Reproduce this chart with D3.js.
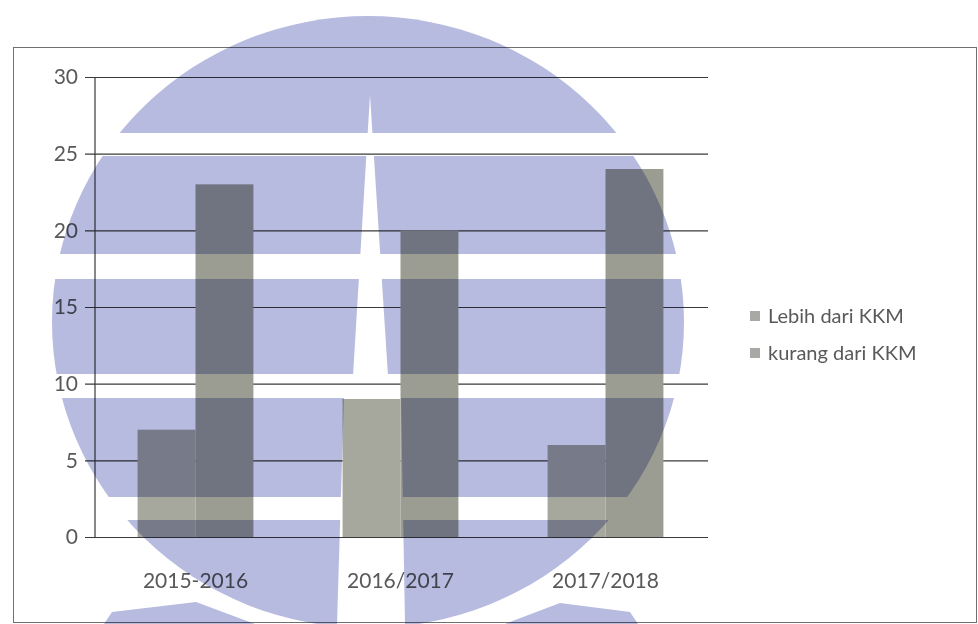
<!DOCTYPE html>
<html>
<head>
<meta charset="utf-8">
<script src="https://cdn.jsdelivr.net/npm/d3@7"></script>
<style>
  body { margin: 0; background: #fff; }
  svg text { font-family: Lato, "Open Sans", sans-serif; fill: #595959; }
  .watermark { mix-blend-mode: multiply; }
</style>
</head>
<body>
<div id="chart"></div>
<script>
// data
const years = ['2015-2016', '2016/2017', '2017/2018'];
const seriesNames = ['Lebih dari KKM', 'kurang dari KKM'];
const lebih = [7, 9, 6];
const kurang = [23, 20, 24];
const yTicks = [0, 5, 10, 15, 20, 25, 30];

const seriesColors = ['#a6a79d', '#9c9d92'];

const width = 978, height = 624;
const margin = {top: 77, left: 93, right: 270, bottom: 87};

const svg = d3.select('#chart').append('svg')
    .attr('width', width)
    .attr('height', height);

// outer chart frame
svg.append('rect')
    .attr('x', 13.5).attr('y', 47.5)
    .attr('width', 963).attr('height', 575)
    .attr('fill', 'none')
    .attr('stroke', '#707070');

const xScale = d3.scaleBand()
    .domain(years)
    .range([margin.left, width - margin.right]);
const xInner = d3.scaleBand()
    .domain(seriesNames)
    .range([0, xScale.bandwidth()])
    .paddingInner(0)
    .paddingOuter(0.77);
const yScale = d3.scaleLinear()
    .domain([0, 30])
    .range([height - margin.bottom, margin.top]);

// gridlines + y axis
const yAxis = d3.axisLeft(yScale)
    .tickValues(yTicks)
    .tickSize(-(width - margin.right - margin.left))
    .tickPadding(10);
const yAxisGroup = svg.append('g')
    .attr('transform', `translate(${margin.left}, 0)`)
    .call(yAxis);
yAxisGroup.select('.domain').remove();
yAxisGroup.selectAll('line')
    .attr('x1', -8)
    .attr('stroke', '#3a3a3a')
    .attr('stroke-width', 1.2);
yAxisGroup.selectAll('text')
    .attr('x', -15)
    .style('font-size', '21px');

svg.append('line')
    .attr('x1', margin.left + 2).attr('x2', margin.left + 2)
    .attr('y1', yScale(30)).attr('y2', yScale(0))
    .attr('stroke', '#3a3a3a')
    .attr('stroke-width', 1.2);

// bars
const rows = years.map((y, i) => ({year: y, values: [lebih[i], kurang[i]]}));
const groups = svg.append('g').selectAll('g')
    .data(rows)
    .join('g')
    .attr('transform', d => `translate(${xScale(d.year)}, 0)`);
groups.selectAll('rect')
    .data(d => d.values.map((v, j) => ({key: seriesNames[j], value: v, idx: j})))
    .join('rect')
    .attr('x', d => xInner(d.key))
    .attr('y', d => yScale(d.value))
    .attr('width', xInner.bandwidth())
    .attr('height', d => yScale(0) - yScale(d.value))
    .attr('fill', d => seriesColors[d.idx]);

// x labels
const xAxis = d3.axisBottom(xScale).tickSize(0).tickPadding(36);
const xAxisGroup = svg.append('g')
    .attr('transform', `translate(0, ${yScale(0)})`)
    .call(xAxis);
xAxisGroup.select('.domain').remove();
xAxisGroup.selectAll('text').style('font-size', '21px');

// legend
const legend = svg.append('g')
    .attr('transform', 'translate(750, 316)');
const legendItems = legend.selectAll('g')
    .data(seriesNames)
    .join('g')
    .attr('transform', (d, i) => `translate(0, ${i * 37})`);
legendItems.append('rect')
    .attr('x', 0).attr('y', -5)
    .attr('width', 10).attr('height', 10)
    .attr('fill', '#a8a8a4');
legendItems.append('text')
    .attr('x', 18)
    .attr('dy', '0.35em')
    .style('font-size', '20px')
    .text(d => d);

// scanned logo watermark laid over the chart
const wm = {cx: 368, cy: 322, rx: 316, ry: 306};
const gaps = [[133, 156], [254, 279], [374, 398], [497, 520]];
const wmColor = '#b7bbdf';
const defs = svg.append('defs');
const mask = defs.append('mask').attr('id', 'wm-mask');
mask.append('ellipse')
    .attr('cx', wm.cx).attr('cy', wm.cy)
    .attr('rx', wm.rx).attr('ry', wm.ry)
    .attr('fill', '#fff');
mask.selectAll('rect')
    .data(gaps)
    .join('rect')
    .attr('x', 0).attr('width', width)
    .attr('y', d => d[0]).attr('height', d => d[1] - d[0])
    .attr('fill', '#000');
mask.append('path')
    .attr('d', 'M370,95 L353,376 L344,396 L337,624 L405,624 L401,396 L388,376 Z')
    .attr('fill', '#000');

const wmGroup = svg.append('g').attr('class', 'watermark');
wmGroup.append('rect')
    .attr('width', width).attr('height', height)
    .attr('fill', wmColor)
    .attr('mask', 'url(#wm-mask)');
wmGroup.append('path')
    .attr('d', 'M104,624 L112,612 L196,602 L255,624 Z')
    .attr('fill', wmColor);
wmGroup.append('path')
    .attr('d', 'M505,624 L560,603 L630,612 L638,624 Z')
    .attr('fill', wmColor);
</script>
</body>
</html>
